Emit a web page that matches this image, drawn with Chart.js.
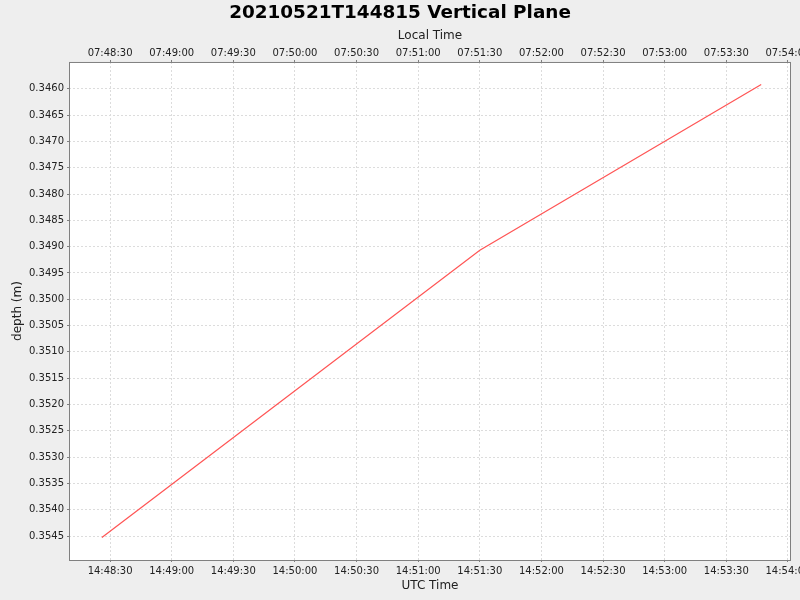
<!DOCTYPE html>
<html>
<head>
<meta charset="utf-8">
<title>20210521T144815 Vertical Plane</title>
<script src="https://cdn.jsdelivr.net/npm/chart.js@4.4.1/dist/chart.umd.min.js"></script>
<style>
  html, body { margin: 0; padding: 0; background: #eeeeee; }
  #wrap { width: 800px; height: 600px; }
</style>
</head>
<body>
<div id="wrap"><canvas id="depth-chart" width="800" height="600"></canvas></div>
<script>
// data
const utcTimes = ['14:48:26', '14:51:30', '14:53:47'];
const depths = [0.35453, 0.34907, 0.34592];

// axis ticks
const utcTickLabels = ['14:48:30', '14:49:00', '14:49:30', '14:50:00', '14:50:30', '14:51:00',
                       '14:51:30', '14:52:00', '14:52:30', '14:53:00', '14:53:30', '14:54:00'];
const localTickLabels = ['07:48:30', '07:49:00', '07:49:30', '07:50:00', '07:50:30', '07:51:00',
                         '07:51:30', '07:52:00', '07:52:30', '07:53:00', '07:53:30', '07:54:00'];
const depthTicks = [0.3460, 0.3465, 0.3470, 0.3475, 0.3480, 0.3485, 0.3490, 0.3495, 0.3500,
                    0.3505, 0.3510, 0.3515, 0.3520, 0.3525, 0.3530, 0.3535, 0.3540, 0.3545];

const utcOffset = 7 * 3600; // UTC -> local
const xMin = toSec('14:48:10');
const xMax = toSec('14:54:01') + 0.5;
const yMin = 0.34549;
const yMax = 0.354956;

function toSec(t) {
    const p = t.split(':').map(Number);
    return p[0] * 3600 + p[1] * 60 + p[2];
}

const points = utcTimes.map((t, i) => ({ x: toSec(t), y: depths[i] }));

const tickFont = { family: 'DejaVu Sans', size: 10 };
const labelFont = { family: 'DejaVu Sans', size: 12 };
const gridColor = '#dcdcdc';
const edgeColor = '#808080';
const textColor = '#222222';

// plot background + outline like the original
const plotFrame = {
    id: 'plotFrame',
    beforeDraw(chart) {
        const { ctx, chartArea: a } = chart;
        ctx.save();
        ctx.fillStyle = '#eeeeee';
        ctx.fillRect(0, 0, chart.width, chart.height);
        ctx.fillStyle = '#ffffff';
        ctx.fillRect(a.left, a.top, a.right - a.left, a.bottom - a.top);
        ctx.restore();
    },
    afterDraw(chart) {
        const { ctx, chartArea: a } = chart;
        ctx.save();
        ctx.strokeStyle = edgeColor;
        ctx.lineWidth = 1;
        ctx.strokeRect(a.left + 0.5, a.top + 0.5, a.right - a.left - 1, a.bottom - a.top);
        ctx.restore();
    }
};

function noPad(scale) {
    scale.paddingLeft = 0;
    scale.paddingRight = 0;
    scale.paddingTop = 0;
    scale.paddingBottom = 0;
}

new Chart(document.getElementById('depth-chart'), {
    type: 'line',
    data: {
        datasets: [{
            label: 'depth',
            data: points,
            borderColor: '#ff5555',
            borderWidth: 1.2,
            pointRadius: 0,
            tension: 0,
            xAxisID: 'x',
            yAxisID: 'y'
        }]
    },
    options: {
        responsive: false,
        animation: false,
        layout: { padding: 0 },
        plugins: {
            legend: { display: false },
            tooltip: { enabled: false },
            title: {
                display: true,
                text: '20210521T144815 Vertical Plane',
                color: '#000000',
                font: { family: 'DejaVu Sans', size: 18.4, weight: 'bold', lineHeight: 1.2 },
                padding: { top: 2.5, bottom: 0 }
            }
        },
        scales: {
            x: {
                type: 'linear',
                position: 'bottom',
                min: xMin,
                max: xMax,
                afterBuildTicks(scale) {
                    scale.ticks = utcTickLabels.map(t => ({ value: toSec(t) }));
                },
                afterFit(scale) {
                    scale.height = 40;
                    noPad(scale);
                },
                ticks: {
                    autoSkip: false,
                    maxRotation: 0,
                    padding: 3,
                    color: textColor,
                    font: tickFont,
                    callback: (v, i) => utcTickLabels[i]
                },
                grid: { color: gridColor, tickColor: edgeColor, tickLength: 2, tickBorderDash: [] },
                border: { display: false, dash: [2, 2] },
                title: { display: true, text: 'UTC Time', color: textColor, font: labelFont, padding: { top: 0, bottom: 7 } }
            },
            x2: {
                type: 'linear',
                position: 'top',
                min: xMin - utcOffset,
                max: xMax - utcOffset,
                afterBuildTicks(scale) {
                    scale.ticks = localTickLabels.map(t => ({ value: toSec(t) }));
                },
                afterFit(scale) {
                    scale.height = 37.4;
                    noPad(scale);
                },
                ticks: {
                    autoSkip: false,
                    maxRotation: 0,
                    padding: 1,
                    color: textColor,
                    font: tickFont,
                    callback: (v, i) => localTickLabels[i]
                },
                grid: { color: gridColor, tickColor: edgeColor, tickLength: 2, tickBorderDash: [] },
                border: { display: false, dash: [2, 2] },
                title: { display: true, text: 'Local Time', color: textColor, font: labelFont, padding: { top: 4.5, bottom: 0 } }
            },
            y: {
                type: 'linear',
                position: 'left',
                reverse: true,
                min: yMin,
                max: yMax,
                afterBuildTicks(scale) {
                    scale.ticks = depthTicks.map(v => ({ value: v }));
                },
                afterFit(scale) {
                    scale.width = 69;
                    noPad(scale);
                },
                ticks: {
                    autoSkip: false,
                    padding: 3,
                    color: textColor,
                    font: tickFont,
                    callback: v => v.toFixed(4)
                },
                grid: { color: gridColor, tickColor: edgeColor, tickLength: 2, tickBorderDash: [] },
                border: { display: false, dash: [2, 2] },
                title: { display: true, text: 'depth (m)', color: textColor, font: labelFont, padding: { top: 11, bottom: 0 } }
            },
            // empty right-hand strip, keeps the title centred on the page
            yRight: {
                type: 'linear',
                position: 'right',
                min: yMin,
                max: yMax,
                afterFit(scale) {
                    scale.width = 9;
                    noPad(scale);
                },
                ticks: { display: false },
                grid: { display: false, drawTicks: false },
                border: { display: false }
            }
        }
    },
    plugins: [plotFrame]
});
</script>
</body>
</html>
